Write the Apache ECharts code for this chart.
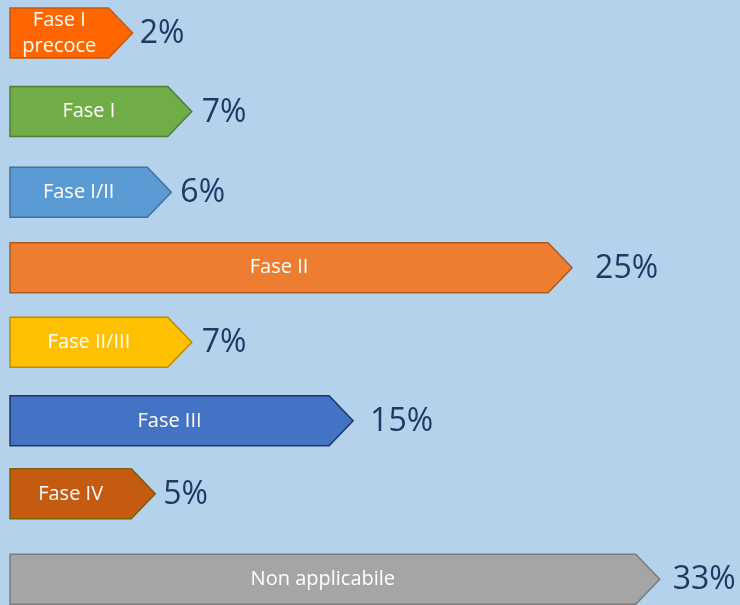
<!DOCTYPE html>
<html>
<head>
<meta charset="utf-8">
<script src="https://cdn.jsdelivr.net/npm/echarts@6/dist/echarts.min.js"></script>
<style>
  html, body { margin: 0; padding: 0; background: #b4d2eb; }
  #chart { width: 740px; height: 605px; }
</style>
</head>
<body>
<div id="chart"></div>
<script>
// --- data ---
const phases = ['Fase I\nprecoce', 'Fase I', 'Fase I/II', 'Fase II', 'Fase II/III', 'Fase III', 'Fase IV', 'Non applicabile'];
const percent = [2, 7, 6, 25, 7, 15, 5, 33];
// drawn arrow length (to the tip), axis units 0..100
const barLength = [16.8, 24.9, 22.1, 77.0, 24.9, 47.0, 19.9, 89.0];
// row slot of each arrow (rows are not evenly spaced in the picture)
const rowPos = [0, 1.01, 2.05, 3.02, 3.98, 4.99, 5.93, 7.03];

// fill / border per bar
const fills = ['#ff6600', '#70ad47', '#5b9bd5', '#ed7d31', '#ffc000', '#4472c4', '#c55a11', '#a5a5a5'];
const borders = ['#c55a11', '#507e32', '#41719c', '#ae5a21', '#bc8c00', '#203864', '#7f6000', '#7b7b7b'];
const labelGap = [7, 10, 9, 23, 10, 17, 8, 13];

const chart = echarts.init(document.getElementById('chart'));

const TIP = 24;      // arrow point length px
const HALF = 25;     // half bar height px

chart.setOption({
  backgroundColor: '#b4d2eb',
  animation: false,
  grid: { left: 10, right: 0, top: 0, bottom: 0 },
  xAxis: { type: 'value', min: 0, max: 100, show: false },
  yAxis: { type: 'value', min: -0.425, max: 7.36, inverse: true, show: false },
  series: [{
    type: 'custom',
    clip: false,
    data: barLength.map((v, i) => [v, rowPos[i], i]),
    renderItem: (params, api) => {
      const i = api.value(2);
      const start = api.coord([0, api.value(1)]);
      const tip = api.coord([api.value(0), api.value(1)]);
      const x0 = start[0], y = start[1];
      const xt = tip[0], xb = xt - TIP;
      return {
        type: 'group',
        children: [
          {
            type: 'polygon',
            shape: { points: [[x0, y - HALF], [xb, y - HALF], [xt, y], [xb, y + HALF], [x0, y + HALF]] },
            style: { fill: fills[i], stroke: borders[i], lineWidth: 1.5 }
          },
          {
            type: 'text',
            style: {
              x: (x0 + xb) / 2, y: y,
              text: phases[i],
              align: 'center', verticalAlign: 'middle',
              fill: '#ffffff',
              font: '20px "Open Sans", sans-serif',
              lineHeight: 26
            }
          },
          {
            type: 'text',
            style: {
              x: xt + labelGap[i], y: y + 1,
              text: percent[i] + '%',
              align: 'left', verticalAlign: 'middle',
              fill: '#1f3864',
              font: '32px "Open Sans", sans-serif'
            }
          }
        ]
      };
    }
  }]
});
</script>
</body>
</html>
